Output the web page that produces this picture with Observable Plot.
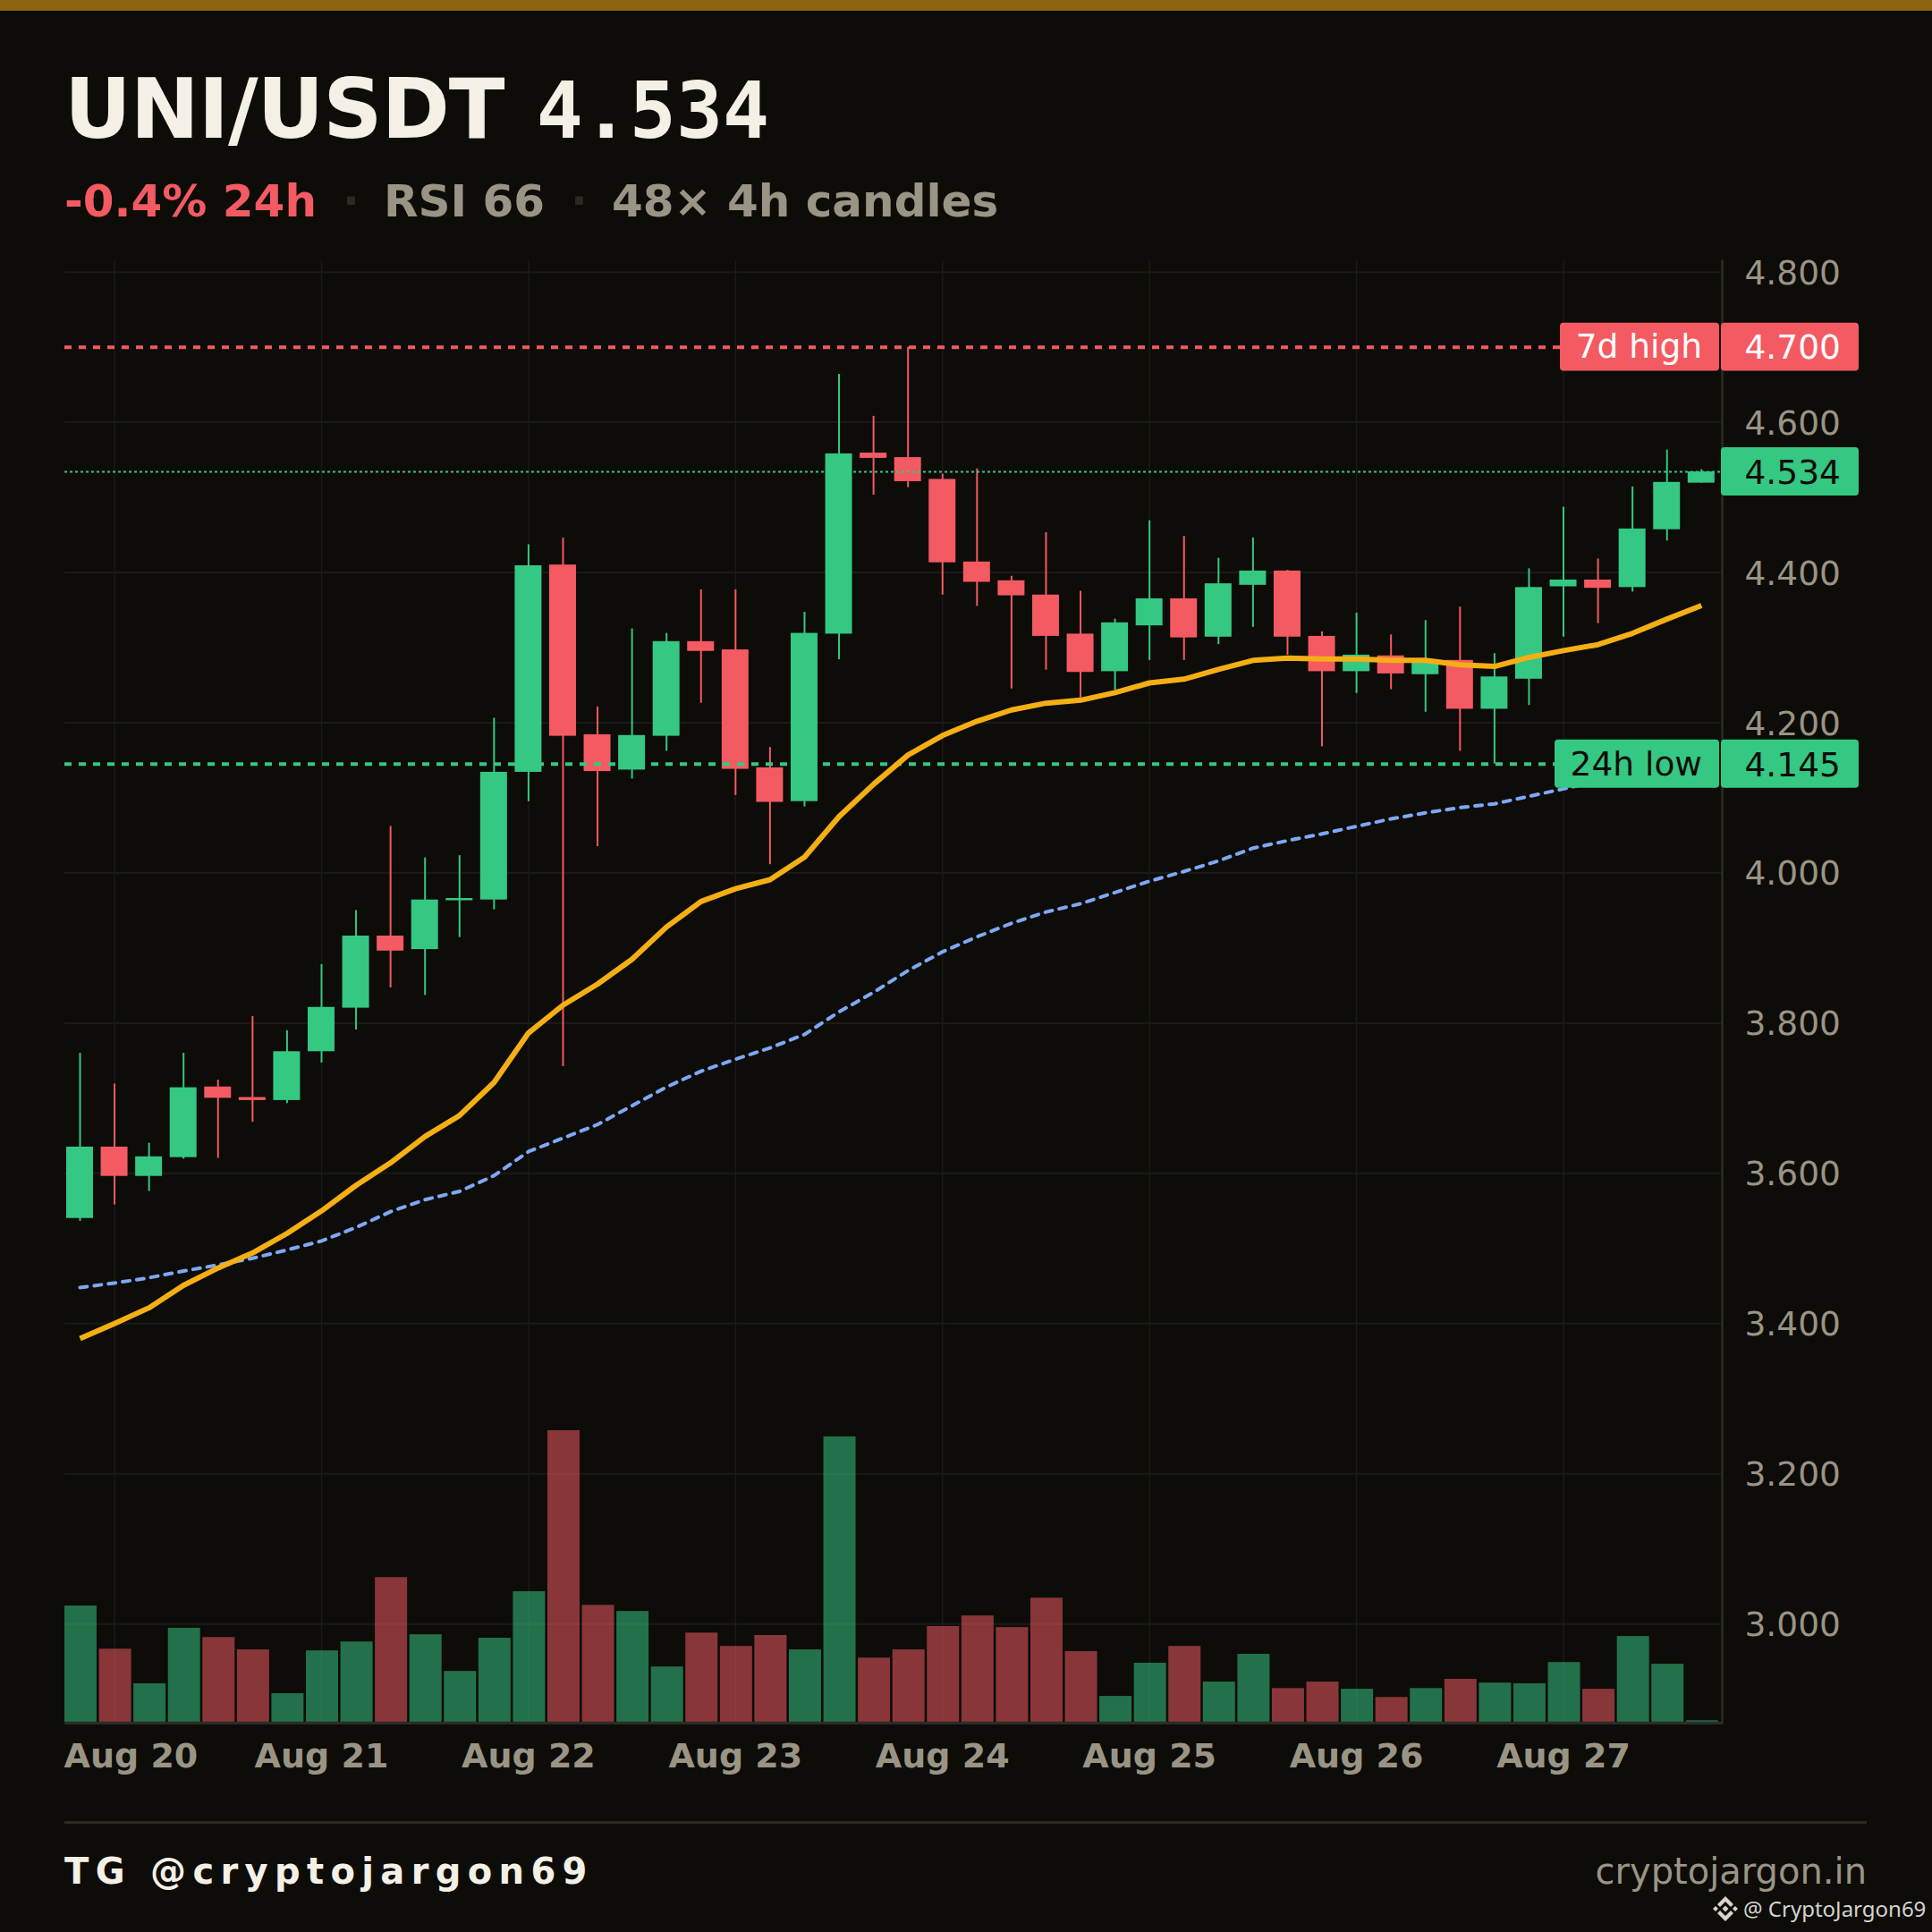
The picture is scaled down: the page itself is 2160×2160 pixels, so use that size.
<!DOCTYPE html>
<html>
<head>
<meta charset="utf-8">
<script src="https://cdn.jsdelivr.net/npm/d3@7"></script>
<script src="https://cdn.jsdelivr.net/npm/@observablehq/plot@0.6"></script>
<style>
html,body{margin:0;padding:0;background:#0d0c09;width:2160px;height:2160px;overflow:hidden;font-family:"DejaVu Sans",sans-serif}
#head{position:relative;height:280px;box-sizing:border-box;border-top:12px solid #8b6510}
#title{position:absolute;left:72px;top:56px;font-size:92px;font-weight:700;color:#f5f0e6;line-height:110px;white-space:pre;letter-spacing:-1px}
#title .p{font-family:"DejaVu Sans Mono";font-size:86.5px;letter-spacing:0;margin-left:5px}
#sub{position:absolute;left:72px;top:183px;font-size:50px;font-weight:700;line-height:60px;color:#9a9484;white-space:pre}
#sub span{position:absolute;top:0}
#chart svg{display:block}
#foot{position:relative;height:150px}
#rule{position:absolute;left:72px;width:2015px;top:26px;height:3px;background:#2a2a22}
#tg{position:absolute;left:72px;top:58px;font-size:40px;font-weight:700;letter-spacing:7.35px;color:#f5f0e6;line-height:48px;white-space:pre}
#site{position:absolute;right:73px;top:58px;font-size:40px;color:#9a9484;line-height:48px}
#mark{position:absolute;left:1949px;top:109px;font:24px "Noto Sans";color:#d4d4cc;line-height:30px;white-space:pre}
#icon{position:absolute;left:1915px;top:110px}
</style>
</head>
<body>
<div id="head">
  <div id="title">UNI/USDT <span class="p">4.534</span></div>
  <div id="sub"><span style="left:0;color:#f45a62">-0.4% 24h</span><span style="left:311px;color:#2a2a22">·</span><span style="left:357px">RSI 66</span><span style="left:566px;color:#2a2a22">·</span><span style="left:612px">48× 4h candles</span></div>
</div>
<div id="chart"></div>
<div id="foot">
  <div id="rule"></div>
  <div id="tg">TG @cryptojargon69</div>
  <div id="site">cryptojargon.in</div>
  <svg id="icon" width="28" height="28" viewBox="0 0 28 28"><g fill="#d4d4cc"><polygon points="14,0 23,9 20,12 14,6 8,12 5,9"/><polygon points="14,28 23,19 20,16 14,22 8,16 5,19"/><polygon points="0,14 3,11 6,14 3,17"/><polygon points="28,14 25,11 22,14 25,17"/><polygon points="14,10.5 17.5,14 14,17.5 10.5,14"/></g></svg>
  <div id="mark">@ CryptoJargon69</div>
</div>
<script>
const opens  = [3.540,3.635,3.596,3.621,3.715,3.701,3.697,3.762,3.820,3.916,3.898,3.963,3.964,4.134,4.410,4.184,4.137,4.182,4.308,4.297,4.140,4.095,4.318,4.559,4.553,4.524,4.414,4.389,4.370,4.318,4.268,4.329,4.365,4.314,4.383,4.402,4.315,4.268,4.289,4.264,4.283,4.218,4.258,4.381,4.390,4.380,4.457,4.519];
const closes = [3.635,3.596,3.622,3.714,3.700,3.697,3.762,3.821,3.916,3.896,3.964,3.966,4.134,4.409,4.182,4.135,4.183,4.308,4.295,4.138,4.094,4.319,4.558,4.552,4.521,4.413,4.387,4.369,4.315,4.267,4.333,4.365,4.313,4.385,4.402,4.314,4.268,4.290,4.265,4.283,4.218,4.261,4.380,4.390,4.379,4.458,4.520,4.534];
const highs  = [3.760,3.719,3.640,3.760,3.724,3.809,3.790,3.878,3.950,4.062,4.020,4.023,4.206,4.437,4.446,4.221,4.325,4.319,4.377,4.377,4.167,4.347,4.664,4.608,4.700,4.531,4.538,4.395,4.453,4.375,4.338,4.469,4.448,4.419,4.446,4.403,4.321,4.346,4.317,4.336,4.354,4.292,4.405,4.487,4.418,4.514,4.563,4.537];
const lows   = [3.536,3.558,3.576,3.619,3.620,3.668,3.693,3.747,3.791,3.847,3.837,3.914,3.951,4.095,3.742,4.035,4.125,4.162,4.226,4.103,4.011,4.088,4.284,4.503,4.513,4.370,4.355,4.245,4.270,4.233,4.243,4.283,4.283,4.304,4.327,4.290,4.168,4.239,4.244,4.214,4.162,4.145,4.223,4.314,4.332,4.374,4.442,4.519];
const maFast = [3.380,3.400,3.421,3.451,3.474,3.494,3.520,3.550,3.584,3.614,3.649,3.677,3.721,3.787,3.824,3.852,3.885,3.928,3.962,3.979,3.991,4.021,4.075,4.118,4.157,4.183,4.202,4.217,4.226,4.230,4.240,4.253,4.258,4.271,4.283,4.286,4.285,4.285,4.283,4.283,4.277,4.275,4.287,4.296,4.304,4.319,4.338,4.356];
const maSlow = [3.448,3.454,3.461,3.470,3.478,3.487,3.498,3.510,3.528,3.549,3.565,3.576,3.597,3.629,3.647,3.665,3.690,3.715,3.736,3.752,3.767,3.785,3.815,3.841,3.870,3.895,3.915,3.933,3.948,3.959,3.974,3.989,4.002,4.016,4.033,4.043,4.052,4.062,4.072,4.080,4.087,4.092,4.102,4.112,4.122,4.133,4.144,4.156];
const volumes = [339,213,112,274,247,211,83,208,234,422,255,148,245,381,851,341,323,161,260,221,253,211,833,187,211,279,310,276,362,206,75,172,221,117,198,98,117,96,72,98,125,114,112,174,96,250,169,4];
const dayIndex = [1,7,13,19,25,31,37,43];
const dayLabels = ["Aug 20","Aug 21","Aug 22","Aug 23","Aug 24","Aug 25","Aug 26","Aug 27"];
const priceTicks = [4.8,4.6,4.4,4.2,4.0,3.8,3.6,3.4,3.2,3.0];
const levelHigh = 4.700, levelLow = 4.145, levelLast = 4.534;

const GREEN="#35c882", RED="#f45a62", BG="#0d0c09", MUTED="#9a9484", GRID="#1a1a16", AXIS="#2c2c26";
const data = opens.map((o,i)=>({i,o,c:closes[i],h:highs[i],l:lows[i],fast:maFast[i],slow:maSlow[i],v:volumes[i]}));
data.forEach(d=>{d.col = d.c>=d.o ? GREEN : RED;});
data[5].col=RED;
const volBase = 2.8694, volUnit = 0.000456;
const boxH = 0.0321;
const fs = 37.5;
const W=2160,H=1730,mL=72,mR=235,mT=11,mB=84;

const plot = Plot.plot({
  width:W,height:H,marginLeft:mL,marginRight:mR,marginTop:mT,marginBottom:mB,
  style:{background:"transparent",fontFamily:'"DejaVu Sans"',fontSize:fs+"px",color:MUTED,overflow:"visible"},
  x:{type:"band",domain:data.map(d=>d.i),range:[72,1920.8],paddingInner:0.067,paddingOuter:0,round:false,label:null},
  y:{type:"linear",domain:[2.8680,4.8151],range:[H-mB,mT],label:null},
  color:{type:"identity"},
  marks:[
    Plot.ruleY(priceTicks,{stroke:GRID,strokeWidth:2}),
    Plot.ruleX(dayIndex,{stroke:GRID,strokeWidth:1.5,dx:-1}),
    Plot.barY(data,{x:"i",y1:()=>volBase,y2:d=>volBase+d.v*volUnit,fill:d=>d.col,fillOpacity:0.54}),
    Plot.ruleX(data,{x:"i",y1:"l",y2:"h",stroke:"col",strokeWidth:2,dx:-1}),
    Plot.barY(data,{x:"i",y1:"o",y2:"c",fill:"col",insetLeft:3,insetRight:3,dx:-1}),
    Plot.ruleY([levelLast],{stroke:GREEN,strokeWidth:2,strokeDasharray:"3,3"}),
    Plot.ruleY([levelHigh],{stroke:RED,strokeWidth:4,strokeDasharray:"8,8"}),
    Plot.ruleY([levelLow],{stroke:GREEN,strokeWidth:4,strokeDasharray:"8,8"}),
    Plot.line(data,{x:"i",y:"slow",stroke:"#7ea8f5",strokeWidth:4,strokeDasharray:"8,8",dx:-1}),
    Plot.line(data,{x:"i",y:"fast",stroke:"#f5ae14",strokeWidth:6,dx:-1,strokeLinecap:"butt"}),
    Plot.ruleY([2.8680],{stroke:AXIS,strokeWidth:3}),
    Plot.frame({anchor:"right",stroke:AXIS,strokeWidth:2.5}),
    Plot.axisY({anchor:"right",ticks:priceTicks,tickFormat:d3.format(".3f"),tickSize:0,tickPadding:25,label:null,fill:MUTED,fontSize:fs,dy:1.5}),
    Plot.axisX({anchor:"bottom",ticks:dayIndex.slice(1),tickFormat:i=>dayLabels[dayIndex.indexOf(i)],tickSize:0,tickPadding:23,label:null,fill:MUTED,fontSize:38,fontWeight:700,dx:-1}),
    Plot.text([dayLabels[0]],{frameAnchor:"bottom-left",textAnchor:"start",lineAnchor:"bottom",dx:-1,dy:49,fill:MUTED,fontSize:38,fontWeight:700}),
    // level tags
    Plot.rect([levelHigh],{y1:d=>d-boxH,y2:d=>d+boxH,insetLeft:1672,insetRight:3,rx:4,fill:RED}),
    Plot.rect([levelHigh],{y1:d=>d-boxH,y2:d=>d+boxH,insetLeft:1852,insetRight:-153,rx:4,fill:RED}),
    Plot.rect([levelLow],{y1:d=>d-boxH,y2:d=>d+boxH,insetLeft:1666,insetRight:3,rx:4,fill:GREEN}),
    Plot.rect([levelLow],{y1:d=>d-boxH,y2:d=>d+boxH,insetLeft:1852,insetRight:-153,rx:4,fill:GREEN}),
    Plot.rect([levelLast],{y1:d=>d-boxH,y2:d=>d+boxH,insetLeft:1852,insetRight:-153,rx:4,fill:GREEN}),
    Plot.text(["7d high"],{y:()=>levelHigh,frameAnchor:"right",textAnchor:"end",dx:-22.5,dy:0,fill:"#ffffff",fontSize:fs}),
    Plot.text(["24h low"],{y:()=>levelLow,frameAnchor:"right",textAnchor:"end",dx:-22.5,dy:1,fill:BG,fontSize:fs}),
    Plot.text([levelHigh],{y:d=>d,text:d3.format(".3f"),frameAnchor:"right",textAnchor:"start",dx:25,dy:1,fill:"#ffffff",fontSize:fs}),
    Plot.text([levelLow],{y:d=>d,text:d3.format(".3f"),frameAnchor:"right",textAnchor:"start",dx:25,dy:1.5,fill:BG,fontSize:fs}),
    Plot.text([levelLast],{y:d=>d,text:d3.format(".3f"),frameAnchor:"right",textAnchor:"start",dx:25,dy:1,fill:BG,fontSize:fs})
  ]
});
document.getElementById("chart").appendChild(plot);
</script>
</body>
</html>
